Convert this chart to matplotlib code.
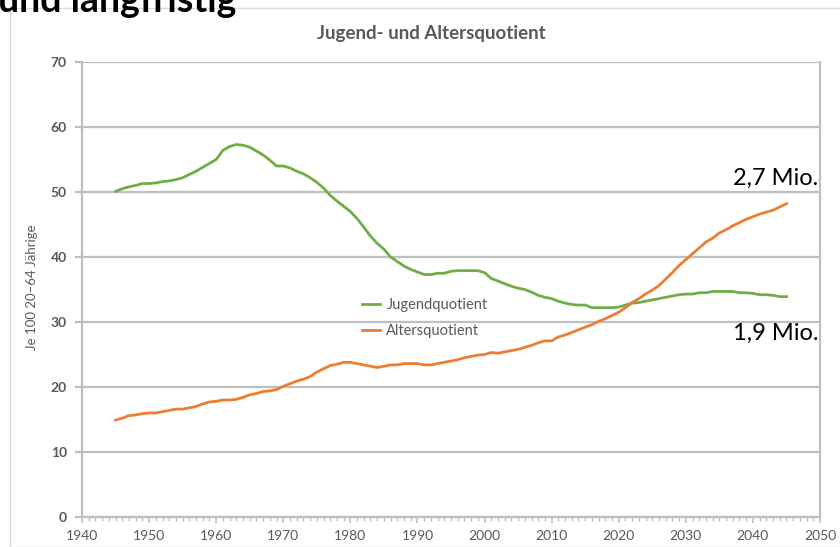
import matplotlib

matplotlib.use("Agg")

import matplotlib.pyplot as plt
from matplotlib.patches import Rectangle
from matplotlib.ticker import MultipleLocator

plt.rcParams["font.family"] = ["Lato", "DejaVu Sans"]

GRAY = "#bfbfbf"
TXT = "#595959"

years = list(range(1945, 2046))

jugend = [
    50.1, 50.5, 50.8, 51.0, 51.3, 51.3, 51.4, 51.6, 51.7, 51.9,
    52.2, 52.7, 53.2, 53.8, 54.4, 55.0, 56.4, 57.0, 57.3, 57.2,
    56.9, 56.3, 55.7, 54.9, 54.0, 54.0, 53.7, 53.2, 52.8, 52.2,
    51.5, 50.6, 49.5, 48.6, 47.8, 47.0, 45.9, 44.6, 43.2, 42.1,
    41.2, 40.0, 39.3, 38.6, 38.1, 37.7, 37.3, 37.3, 37.5, 37.5,
    37.8, 37.9, 37.9, 37.9, 37.9, 37.6, 36.7, 36.3, 35.9, 35.5,
    35.2, 35.0, 34.6, 34.1, 33.8, 33.6, 33.2, 32.9, 32.7, 32.6,
    32.6, 32.2, 32.2, 32.2, 32.2, 32.3, 32.6, 32.9, 33.0, 33.2,
    33.4, 33.6, 33.8, 34.0, 34.2, 34.3, 34.3, 34.5, 34.5, 34.7,
    34.7, 34.7, 34.7, 34.5, 34.5, 34.4, 34.2, 34.2, 34.1, 33.9,
    33.9,
]

alters = [
    14.9, 15.2, 15.6, 15.7, 15.9, 16.0, 16.0, 16.2, 16.4, 16.6,
    16.6, 16.8, 17.0, 17.4, 17.7, 17.8, 18.0, 18.0, 18.1, 18.4,
    18.8, 19.0, 19.3, 19.4, 19.6, 20.1, 20.5, 20.9, 21.2, 21.6,
    22.3, 22.8, 23.3, 23.5, 23.8, 23.8, 23.6, 23.4, 23.2, 23.0,
    23.2, 23.4, 23.4, 23.6, 23.6, 23.6, 23.4, 23.4, 23.6, 23.8,
    24.0, 24.2, 24.5, 24.7, 24.9, 25.0, 25.3, 25.2, 25.4, 25.6,
    25.8, 26.1, 26.4, 26.8, 27.1, 27.1, 27.7, 28.0, 28.4, 28.8,
    29.2, 29.6, 30.1, 30.5, 31.0, 31.5, 32.2, 33.0, 33.6, 34.3,
    34.9, 35.6, 36.6, 37.6, 38.7, 39.6, 40.5, 41.4, 42.3, 42.9,
    43.7, 44.2, 44.8, 45.3, 45.8, 46.2, 46.6, 46.9, 47.2, 47.7,
    48.2,
]

labels = ["Jugendquotient", "Altersquotient"]
colors = ["#70ad47", "#ed7d31"]

fig = plt.figure(figsize=(8.4, 5.47), dpi=100)
W, H = 840, 547

# chart area frame (Excel style)
fig.patches.append(
    Rectangle((10 / W, 0), 1.2, 1 - 8 / H, transform=fig.transFigure,
              fill=False, edgecolor="#d9d9d9", linewidth=1.0)
)

ax = fig.add_axes([82 / W, 1 - 517 / H, (820 - 82) / W, (517 - 62) / H])

ax.plot(years, jugend, color=colors[0], lw=2.0, label=labels[0], zorder=3)
ax.plot(years, alters, color=colors[1], lw=2.0, label=labels[1], zorder=3)

ax.set_xlim(1940, 2050)
ax.set_ylim(0, 70)
ax.xaxis.set_major_locator(MultipleLocator(10))
ax.xaxis.set_minor_locator(MultipleLocator(1))
ax.yaxis.set_major_locator(MultipleLocator(10))

ax.grid(axis="y", color=GRAY, lw=1.6, zorder=0)
ax.set_axisbelow(True)
for side in ["left", "right", "bottom"]:
    ax.spines[side].set_color(GRAY)
    ax.spines[side].set_linewidth(1.6)
ax.spines["top"].set_visible(False)

ax.tick_params(axis="y", length=5, width=1.6, color=GRAY, labelcolor=TXT,
               labelsize=10, pad=6)
ax.tick_params(axis="x", which="major", length=4, width=1.2, color=GRAY,
               labelcolor=TXT, labelsize=10, pad=5)
ax.tick_params(axis="x", which="minor", length=3, width=1.0, color=GRAY)
for t in ax.get_yticklabels():
    t.set_fontweight("bold")

ax.set_ylabel("Je 100 20–64 Jährige", color=TXT, fontsize=9.5)
ax.yaxis.set_label_coords(-0.06, 0.505)

leg = ax.legend(loc="upper left", bbox_to_anchor=(0.372, 0.495), frameon=False,
                fontsize=10.5, handlelength=1.2, handletextpad=0.45,
                labelspacing=0.85, borderaxespad=0)
for t in leg.get_texts():
    t.set_color(TXT)

ax.text(0.998, 0.745, "2,7 Mio.", transform=ax.transAxes, ha="right",
        va="center", fontsize=17, color="black")
ax.text(0.998, 0.404, "1,9 Mio.", transform=ax.transAxes, ha="right",
        va="center", fontsize=17, color="black")

fig.text(431 / W, 1 - 33 / H, "Jugend- und Altersquotient", ha="center",
         va="center", fontsize=13.5, fontweight="bold", color=TXT)

fig.text(-2 / W, 1 - 12 / H, "und langfristig", ha="left", va="baseline",
         fontsize=27, fontweight="bold", color="black")

fig.savefig("out.png", dpi=100)
